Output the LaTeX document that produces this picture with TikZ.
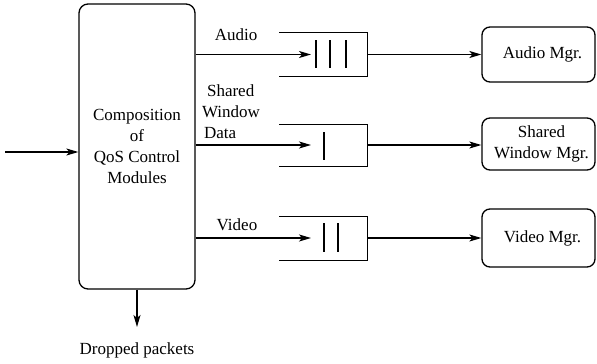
\documentclass[tikz,border=0pt]{standalone}
\usepackage{fontspec}
\setmainfont{Liberation Serif}
\newfontfamily\tnr{Liberation Serif}
\usetikzlibrary{arrows.meta}
\begin{document}
\begin{tikzpicture}[x=1pt,y=-1pt,
  line width=1.3pt,
  font=\tnr\fontsize{17}{21}\selectfont,
  arr/.style={-{Stealth[length=12pt,width=7pt,inset=3pt]}},
  mainbox/.style={draw,rounded corners=9pt,minimum width=116pt,minimum height=285pt,align=center,inner sep=0pt},
  mgr/.style={draw,rounded corners=8pt,minimum width=113pt,align=center,inner sep=0pt},
  queue/.style={minimum width=87pt,inner sep=0pt},
  lbl/.style={inner sep=0pt,align=center}]
\useasboundingbox (0,0) rectangle (597,364);
% main box
\node[mainbox] (main) at (137,146.5) {Composition\\of\\QoS Control\\Modules};
% input
\coordinate (in) at (5,152);
\draw[arr] (in) -- (in -| main.west);
% dropped
\node[lbl] (drop) at (137,350) {Dropped packets};
\coordinate (dropend) at (137,327);
\draw[arr] (main.south) -- (dropend);
% queues
\node[queue,minimum height=43pt] (qa) at (323.5,54.5) {};
\node[queue,minimum height=41pt] (qs) at (323.5,145.5) {};
\node[queue,minimum height=43pt] (qv) at (323.5,238.5) {};
\foreach \q in {qa,qs,qv}
  \draw (\q.north west) -- (\q.north east) -- (\q.south east) -- (\q.south west);
% bars
\draw (316,40) -- (316,68) (330,40) -- (330,68) (346,40) -- (346,68);
\draw (324,132) -- (324,160);
\draw (324,223) -- (324,252) (338,223) -- (338,252);
% arrow tips into queues
\coordinate (ta) at (311,54.5);
\coordinate (ts) at (311,145);
\coordinate (tv) at (311,238);
\draw[arr] (main.east |- ta) -- (ta);
\draw[arr] (main.east |- ts) -- (ts);
\draw[arr] (main.east |- tv) -- (tv);
% labels
\node[lbl] (la) at (236,35) {Audio};
\node[lbl] (lv) at (237,225) {Video};
\node[lbl,align=left] (ls) at (231,112) {\hspace{5pt}Shared\\Window\\\hspace{2pt}Data};
% managers
\node[mgr,minimum height=55pt] (ma) at (538.5,54.5) {\hspace{8pt}Audio Mgr.};
\node[mgr,minimum height=52pt] (ms) at (538.5,144) {\hspace{6pt}Shared\\\hspace{6pt}Window Mgr.};
\node[mgr,minimum height=58pt] (mv) at (538.5,238) {\hspace{8pt}Video Mgr.};
\draw[arr] (qa.east |- ta) -- (ta -| ma.west);
\draw[arr] (qs.east |- ts) -- (ts -| ms.west);
\draw[arr] (qv.east |- tv) -- (tv -| mv.west);
\end{tikzpicture}
\end{document}
